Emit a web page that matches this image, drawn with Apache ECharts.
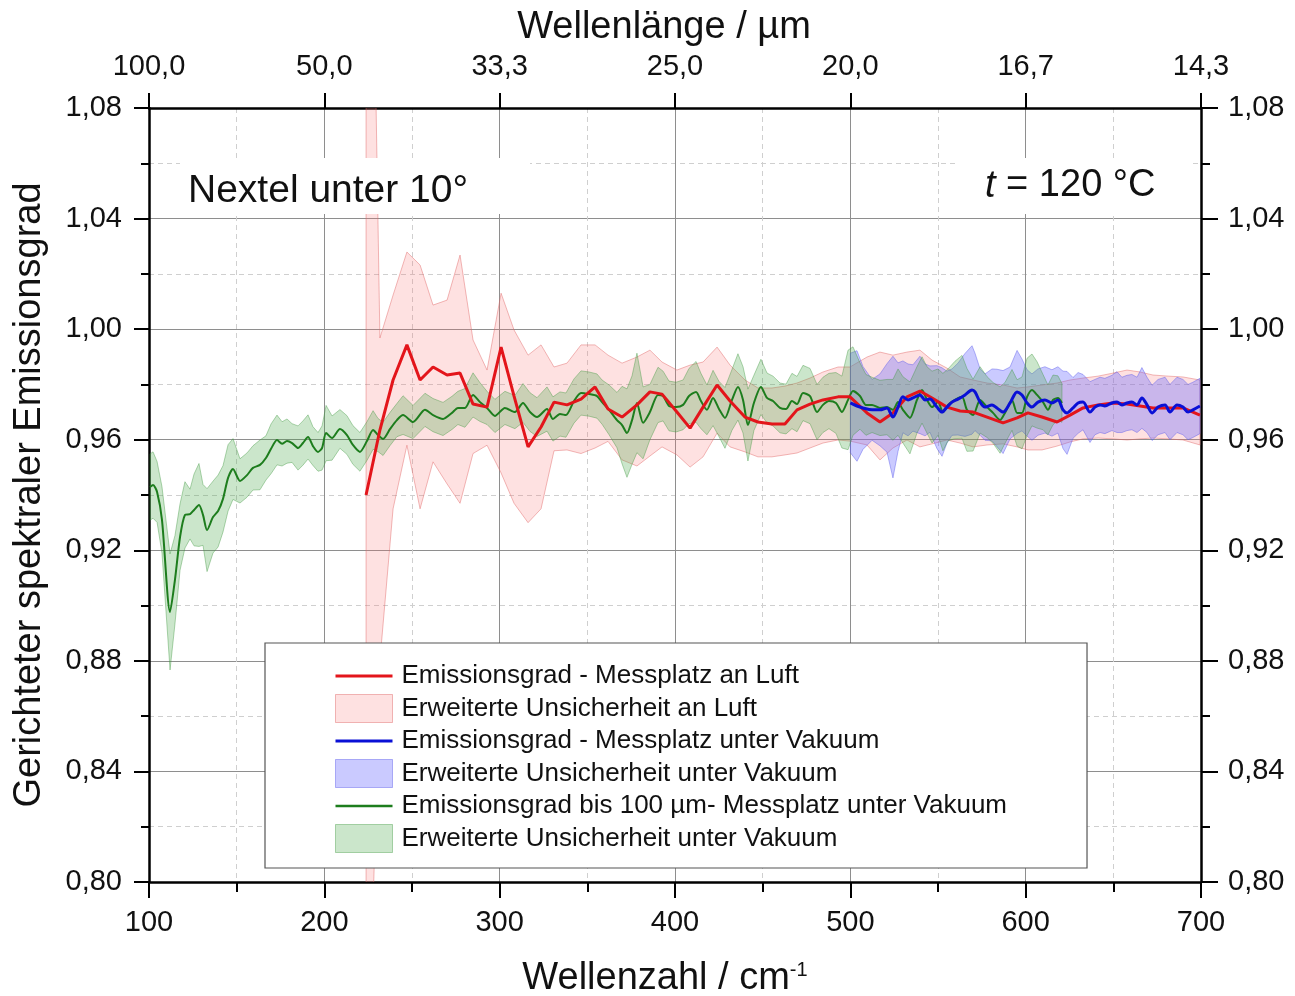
<!DOCTYPE html>
<html>
<head>
<meta charset="utf-8">
<script src="https://cdn.jsdelivr.net/npm/echarts@6/dist/echarts.min.js"></script>
<style>
html,body{margin:0;padding:0;background:#fff;}
#chart{width:1295px;height:996px;}
</style>
</head>
<body>
<div id="chart"></div>
<script>
// ---------- tick labels ----------
const xTickLabels = ['100','200','300','400','500','600','700'];
const topTickLabels = ['100,0','50,0','33,3','25,0','20,0','16,7','14,3'];
const yTickLabels = ['0,80','0,84','0,88','0,92','0,96','1,00','1,04','1,08'];

// ---------- green: Emissionsgrad bis 100 µm - Messplatz unter Vakuum ----------
const greenX = [100.6,102.3,104.6,107.4,112.0,114.8,117.7,120.5,123.4,125.7,128.5,130.8,133.1,136.5,139.4,142.2,145.1,147.9,151.9,155.9,
159.3,163.3,166.7,169.6,173.0,175.9,178.7,181.6,185.0,187.8,190.7,193.5,196.4,198.7,201.0,204.4,208.9,212.9,216.3,220.3,
224.3,227.8,230.6,233.5,237.5,241.4,244.9,250.6,257.4,262.0,267.7,272.8,276.2,280.2,284.8,288.8,292.8,297.3,303.0,308.7,
313.3,317.3,321.3,327.0,330.4,334.4,337.8,342.4,346.4,351.0,355.5,358.4,362.4,366.9,369.8,372.6,375.5,378.3,381.8,385.7,
390.3,393.2,396.6,400.6,404.6,408.0,412.0,414.8,418.2,421.7,425.1,428.5,432.5,435.9,438.8,441.6,445.0,449.0,452.5,455.9,
459.9,463.3,466.7,469.6,473.0,477.0,481.0,484.4,487.8,491.8,495.2,498.7,501.5,505.5,508.9,512.4,516.9,520.9,524.3,527.2,
530.0,534.0,538.0,540.9,543.7,546.6,550.0,552.8,555.7,559.7,563.7,566.5,570.0,574.0,578.0,581.4,585.4,588.2,592.2,595.1,
597.9,600.8,603.6,606.5,609.9,612.7,615.6,618.4,620.7];
const greenY = [0.9429,0.9436,0.9411,0.9310,0.8977,0.9093,0.9248,0.9328,0.9331,0.9346,0.9364,0.9328,0.9273,0.9320,0.9342,0.9386,0.9462,0.9494,0.9451,0.9472,
0.9498,0.9509,0.9534,0.9567,0.9599,0.9585,0.9595,0.9588,0.9570,0.9588,0.9610,0.9577,0.9556,0.9570,0.9624,0.9606,0.9639,0.9617,0.9581,0.9556,
0.9595,0.9635,0.9617,0.9603,0.9639,0.9671,0.9689,0.9664,0.9708,0.9689,0.9675,0.9697,0.9715,0.9715,0.9762,0.9736,0.9715,0.9686,0.9715,0.9700,
0.9733,0.9700,0.9682,0.9711,0.9675,0.9693,0.9689,0.9740,0.9769,0.9765,0.9758,0.9736,0.9708,0.9671,0.9653,0.9624,0.9671,0.9733,0.9661,0.9700,
0.9762,0.9758,0.9722,0.9718,0.9726,0.9758,0.9773,0.9740,0.9708,0.9751,0.9711,0.9679,0.9744,0.9791,0.9744,0.9653,0.9733,0.9791,0.9751,0.9740,
0.9715,0.9711,0.9740,0.9729,0.9769,0.9758,0.9700,0.9726,0.9740,0.9733,0.9700,0.9744,0.9776,0.9758,0.9726,0.9726,0.9715,0.9718,0.9708,0.9736,
0.9708,0.9679,0.9744,0.9780,0.9744,0.9718,0.9736,0.9700,0.9726,0.9744,0.9755,0.9708,0.9689,0.9744,0.9718,0.9697,0.9671,0.9697,0.9744,0.9697,
0.9697,0.9755,0.9780,0.9762,0.9736,0.9708,0.9744,0.9751,0.9733];
const greenU = [0.012,0.012,0.011,0.012,0.021,0.016,0.012,0.012,0.009,0.013,0.015,0.011,0.015,0.013,0.013,0.012,0.012,0.011,0.008,0.008,
0.008,0.009,0.008,0.009,0.009,0.008,0.008,0.007,0.008,0.008,0.008,0.007,0.007,0.008,0.010,0.008,0.007,0.007,0.007,0.007,
0.007,0.007,0.006,0.006,0.006,0.006,0.007,0.006,0.006,0.006,0.006,0.006,0.006,0.007,0.008,0.007,0.006,0.006,0.006,0.006,
0.007,0.007,0.007,0.008,0.008,0.008,0.008,0.008,0.008,0.008,0.008,0.008,0.009,0.010,0.014,0.016,0.016,0.018,0.013,0.010,
0.010,0.009,0.009,0.009,0.009,0.010,0.011,0.010,0.009,0.010,0.010,0.011,0.011,0.012,0.012,0.013,0.010,0.010,0.009,0.009,
0.009,0.009,0.010,0.010,0.010,0.010,0.010,0.010,0.010,0.011,0.013,0.018,0.016,0.012,0.011,0.010,0.010,0.010,0.011,0.012,
0.012,0.013,0.012,0.012,0.012,0.013,0.012,0.014,0.013,0.014,0.015,0.015,0.013,0.012,0.011,0.011,0.012,0.011,0.011,0.012,
0.013,0.014,0.013,0.012,0.010,0.009,0.009,0.008,0.007];

// ---------- red: Emissionsgrad - Messplatz an Luft ----------
const redX = [223.8,231.7,239.2,247.1,254.6,262.0,270.0,277.4,284.8,292.8,300.8,308.2,316.2,323.6,331.0,338.4,346.4,354.4,361.8,369.8,
378.3,385.7,392.6,401.1,408.6,416.0,424.0,431.4,439.9,447.3,455.3,462.7,469.6,477.0,484.4,493.0,499.8,509.5,516.9,524.3,
532.3,539.7,546.6,555.1,562.6,570.0,578.0,587.1,595.1,601.3,609.3,617.9,625.3,632.7,641.3,649.8,657.8,665.2,672.6,681.2,
689.7,699.4];
const redY = [0.9400,0.9635,0.9816,0.9943,0.9816,0.9863,0.9834,0.9841,0.9729,0.9718,0.9935,0.9758,0.9574,0.9646,0.9736,0.9726,0.9747,0.9791,0.9711,0.9682,
0.9726,0.9773,0.9765,0.9700,0.9642,0.9718,0.9798,0.9740,0.9682,0.9664,0.9657,0.9657,0.9708,0.9729,0.9744,0.9755,0.9755,0.9697,0.9664,0.9697,
0.9755,0.9776,0.9751,0.9718,0.9704,0.9700,0.9682,0.9661,0.9679,0.9697,0.9682,0.9664,0.9689,0.9715,0.9726,0.9733,0.9729,0.9722,0.9715,0.9715,
0.9715,0.9689];
const redHigh = [1.30,0.9968,1.0123,1.0279,1.0232,1.0087,1.0105,1.0268,0.9961,0.9852,1.0130,0.9997,0.9906,0.9943,0.9863,0.9877,0.9943,0.9943,0.9906,0.9877,
0.9899,0.9924,0.9881,0.9852,0.9870,0.9881,0.9935,0.9870,0.9816,0.9787,0.9787,0.9794,0.9805,0.9823,0.9845,0.9863,0.9863,0.9899,0.9917,0.9906,
0.9917,0.9924,0.9888,0.9859,0.9827,0.9816,0.9805,0.9798,0.9787,0.9791,0.9798,0.9805,0.9816,0.9823,0.9830,0.9841,0.9852,0.9845,0.9834,0.9830,
0.9827,0.9816];
const redLow = [0.70,0.880,0.935,0.958,0.935,0.952,0.944,0.937,0.955,0.958,0.948,0.937,0.930,0.935,0.9560,0.9563,0.9550,0.9570,0.9594,0.9527,
0.9505,0.9541,0.9574,0.9545,0.9501,0.9538,0.9624,0.9574,0.9556,0.9538,0.9538,0.9545,0.9552,0.9570,0.9588,0.9599,0.9595,0.9581,0.9527,0.9570,
0.9599,0.9574,0.9585,0.9599,0.9588,0.9574,0.9581,0.9585,0.9574,0.9563,0.9563,0.9577,0.9592,0.9603,0.9606,0.9603,0.9599,0.9603,0.9606,0.9603,
0.9599,0.9581];

// ---------- blue: Emissionsgrad - Messplatz unter Vakuum ----------
const blueX = [500.0,503.8,507.2,512.4,516.9,520.9,524.3,527.2,530.0,532.9,535.7,539.7,542.6,545.4,549.4,552.3,555.1,558.0,561.4,565.4,
569.4,571.1,574.0,576.8,580.8,583.6,587.1,591.1,595.1,597.9,600.8,603.6,607.0,611.0,615.0,618.4,621.3,623.6,627.0,629.9,
632.7,636.7,639.5,642.4,645.2,649.2,652.1,654.9,657.8,660.6,663.5,666.3,669.2,672.1,675.5,679.5,682.3,686.3,689.7,692.6,
695.4,699.4];
const blueY = [0.9733,0.9722,0.9715,0.9708,0.9708,0.9715,0.9682,0.9718,0.9755,0.9744,0.9751,0.9762,0.9744,0.9747,0.9718,0.9700,0.9718,0.9736,0.9747,0.9762,
0.9780,0.9773,0.9736,0.9718,0.9726,0.9715,0.9700,0.9733,0.9773,0.9762,0.9733,0.9718,0.9736,0.9744,0.9733,0.9744,0.9708,0.9697,0.9715,0.9733,
0.9736,0.9700,0.9718,0.9726,0.9722,0.9733,0.9736,0.9726,0.9733,0.9736,0.9726,0.9751,0.9726,0.9697,0.9718,0.9726,0.9700,0.9726,0.9718,0.9700,
0.9708,0.9722];
const blueU = [0.018,0.020,0.015,0.011,0.013,0.016,0.022,0.016,0.013,0.013,0.012,0.014,0.013,0.012,0.015,0.016,0.013,0.012,0.013,0.015,
0.016,0.014,0.012,0.012,0.013,0.014,0.015,0.013,0.015,0.013,0.012,0.012,0.012,0.012,0.012,0.012,0.014,0.015,0.011,0.011,
0.010,0.011,0.010,0.010,0.010,0.010,0.011,0.010,0.010,0.010,0.010,0.011,0.010,0.010,0.010,0.010,0.010,0.010,0.010,0.010,
0.010,0.010];

// ---------- names ----------
const N_RED = 'Emissionsgrad - Messplatz an Luft';
const N_RED_U = 'Erweiterte Unsicherheit an Luft';
const N_BLUE = 'Emissionsgrad - Messplatz unter Vakuum';
const N_BLUE_U = 'Erweiterte Unsicherheit unter Vakuum';
const N_GREEN = 'Emissionsgrad bis 100 µm- Messplatz unter Vakuum';
const N_GREEN_U = 'Erweiterte Unsicherheit unter Vakuum\u200B';

const FONT = "'Liberation Sans',Arial,sans-serif";
const C = {
  red: '#e3151b', blue: '#0a10d6', green: '#1d7d1d',
  pinkFill: 'rgba(250,120,120,0.22)', pinkEdge: 'rgba(225,100,100,0.45)',
  blueFill: 'rgba(100,100,255,0.34)', blueEdge: 'rgba(90,90,235,0.45)',
  greenFill: 'rgba(70,165,70,0.28)', greenEdge: 'rgba(60,150,60,0.40)'
};

const greenLow = greenY.map((y, i) => y - greenU[i]);
const greenHigh = greenY.map((y, i) => y + greenU[i]);
const blueLow = blueY.map((y, i) => y - blueU[i]);
const blueHigh = blueY.map((y, i) => y + blueU[i]);

function band(name, xs, lo, hi, fill, edge) {
  return {
    type: 'custom', name: name, clip: true, silent: true, z: 1,
    itemStyle: { color: fill },
    data: [[xs[0], lo[0]]],
    encode: { x: 0, y: 1 },
    renderItem: function (params, api) {
      if (params.dataIndex !== 0) return null;
      const pts = [];
      for (let i = 0; i < xs.length; i++) pts.push(api.coord([xs[i], hi[i]]));
      for (let i = xs.length - 1; i >= 0; i--) pts.push(api.coord([xs[i], lo[i]]));
      return { type: 'polygon', shape: { points: pts }, style: { fill: fill, stroke: edge, lineWidth: 1 } };
    }
  };
}
function line(name, xs, ys, color, width, smooth) {
  return {
    type: 'line', name: name, symbol: 'none', showSymbol: false, smooth: smooth, z: 3,
    data: xs.map((x, i) => [x, ys[i]]),
    lineStyle: { color: color, width: width },
    itemStyle: { color: color }
  };
}

const axisLineStyle = { show: true, lineStyle: { color: '#000', width: 2.5 } };
const tickStyle = { color: '#000', width: 2 };
const labelStyle = { color: '#111', fontFamily: FONT, fontSize: 29 };

const chart = echarts.init(document.getElementById('chart'), null, { renderer: 'canvas' });
chart.setOption({
  animation: false,
  backgroundColor: '#fff',
  grid: { left: 149, right: 94, top: 108, bottom: 114, containLabel: false, outerBoundsMode: 'none' },
  xAxis: [
    {
      type: 'value', position: 'bottom', min: 100, max: 700, interval: 100,
      name: '{a|Wellenzahl / cm}{s|-1}', nameLocation: 'middle', nameGap: 78,
      nameTextStyle: { color: '#111', fontFamily: FONT, fontSize: 38, padding: [0, 20, 0, 0],
        rich: { a: { fontFamily: FONT, fontSize: 38, color: '#111' }, s: { fontFamily: FONT, fontSize: 20, color: '#111', verticalAlign: 'top' } } },
      axisLine: axisLineStyle,
      axisTick: { show: true, inside: false, length: 16, lineStyle: tickStyle },
      minorTick: { show: true, splitNumber: 2, length: 10, lineStyle: tickStyle },
      axisLabel: Object.assign({ margin: 26, formatter: v => xTickLabels[Math.round((v - 100) / 100)] }, labelStyle),
      splitLine: { show: true, lineStyle: { color: '#8e8e8e', width: 1 } },
      minorSplitLine: { show: true, lineStyle: { color: '#cfcfcf', width: 1, type: [5, 4] } }
    },
    {
      type: 'value', position: 'top', min: 100, max: 700, interval: 100,
      name: 'Wellenlänge / µm', nameLocation: 'middle', nameGap: 61,
      nameTextStyle: { color: '#111', fontFamily: FONT, fontSize: 38, padding: [0, 22, 0, 0] },
      axisLine: axisLineStyle,
      axisTick: { show: true, inside: false, length: 15, lineStyle: tickStyle },
      axisLabel: Object.assign({ margin: 27, formatter: v => topTickLabels[Math.round((v - 100) / 100)] }, labelStyle),
      splitLine: { show: false }
    }
  ],
  yAxis: [
    {
      type: 'value', position: 'left', min: 0.80, max: 1.08, interval: 0.04,
      name: 'Gerichteter spektraler Emissionsgrad', nameLocation: 'middle', nameGap: 100,
      nameTextStyle: { color: '#111', fontFamily: FONT, fontSize: 38 },
      axisLine: axisLineStyle,
      axisTick: { show: true, inside: false, length: 15, lineStyle: tickStyle },
      minorTick: { show: true, splitNumber: 2, length: 8, lineStyle: tickStyle },
      axisLabel: Object.assign({ margin: 27, formatter: v => yTickLabels[Math.round((v - 0.80) / 0.04)] }, labelStyle),
      splitLine: { show: true, lineStyle: { color: '#8e8e8e', width: 1 } },
      minorSplitLine: { show: true, lineStyle: { color: '#cfcfcf', width: 1, type: [5, 4] } }
    },
    {
      type: 'value', position: 'right', min: 0.80, max: 1.08, interval: 0.04,
      axisLine: axisLineStyle,
      axisTick: { show: true, inside: false, length: 17, lineStyle: tickStyle },
      minorTick: { show: true, splitNumber: 2, length: 9, lineStyle: tickStyle },
      axisLabel: Object.assign({ margin: 27, formatter: v => yTickLabels[Math.round((v - 0.80) / 0.04)] }, labelStyle),
      splitLine: { show: false }
    }
  ],
  legend: {
    orient: 'vertical', left: 265, top: 643,
    padding: [19, 80, 15, 70],
    backgroundColor: '#fff', borderColor: '#555', borderWidth: 1.2,
    itemWidth: 57, itemHeight: 28, itemGap: 4,
    selectedMode: false,
    textStyle: { fontFamily: FONT, fontSize: 26, lineHeight: 28, color: '#111', padding: [0, 0, 0, 4] },
    data: [
      { name: N_RED, icon: 'path://M0,0H60V3H0Z', itemStyle: { color: C.red, borderWidth: 0 } },
      { name: N_RED_U, icon: 'rect', itemStyle: { color: C.pinkFill, borderColor: C.pinkEdge, borderWidth: 1 } },
      { name: N_BLUE, icon: 'path://M0,0H60V3H0Z', itemStyle: { color: C.blue, borderWidth: 0 } },
      { name: N_BLUE_U, icon: 'rect', itemStyle: { color: C.blueFill, borderColor: C.blueEdge, borderWidth: 1 } },
      { name: N_GREEN, icon: 'path://M0,0H60V2.5H0Z', itemStyle: { color: C.green, borderWidth: 0 } },
      { name: N_GREEN_U, icon: 'rect', itemStyle: { color: C.greenFill, borderColor: C.greenEdge, borderWidth: 1 } }
    ]
  },
  graphic: [
    { type: 'rect', z: 50, shape: { x: 180, y: 158, width: 350, height: 56 }, style: { fill: '#fff' } },
    { type: 'text', z: 51, x: 188, y: 191, style: { text: 'Nextel unter 10°', fontFamily: FONT, fontSize: 39, fill: '#111', verticalAlign: 'middle' } },
    { type: 'rect', z: 50, shape: { x: 955, y: 158, width: 238, height: 56 }, style: { fill: '#fff' } },
    { type: 'text', z: 51, x: 985, y: 186, style: { text: '{i|t} = 120 °C', fontFamily: FONT, fontSize: 38, fill: '#111', verticalAlign: 'middle',
      rich: { i: { fontFamily: FONT, fontSize: 38, fontStyle: 'italic', fill: '#111' } } } }
  ],
  series: [
    band(N_RED_U, redX, redLow, redHigh, C.pinkFill, C.pinkEdge),
    band(N_BLUE_U, blueX, blueLow, blueHigh, C.blueFill, C.blueEdge),
    band(N_GREEN_U, greenX, greenLow, greenHigh, C.greenFill, C.greenEdge),
    line(N_GREEN, greenX, greenY, C.green, 2, 0.25),
    line(N_RED, redX, redY, C.red, 3, false),
    line(N_BLUE, blueX, blueY, C.blue, 3, 0.3)
  ]
});
</script>
</body>
</html>
